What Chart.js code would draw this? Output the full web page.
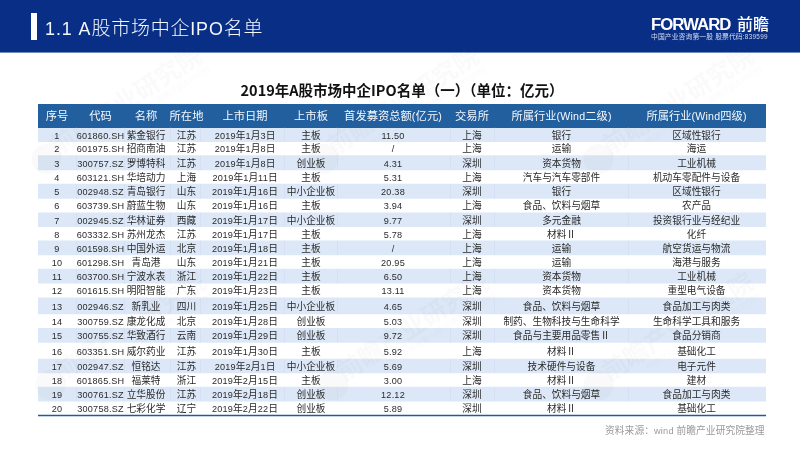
<!DOCTYPE html>
<html lang="zh"><head><meta charset="utf-8">
<style>html,body{margin:0;padding:0;background:#fff}#box{width:800px;height:450px}</style>
<script src="https://cdn.jsdelivr.net/npm/chart.js@4"></script></head>
<body><div id="box"><canvas id="c" width="800" height="450"></canvas></div>
<script>
const headers=['序号','代码','名称','所在地','上市日期','上市板','首发募资总额(亿元)','交易所','所属行业(Wind二级)','所属行业(Wind四级)'];
const codes=['601860.SH','601975.SH','300757.SZ','603121.SH','002948.SZ','603739.SH','002945.SZ','603332.SH','601598.SH','601298.SH','603700.SH','601615.SH','002946.SZ','300759.SZ','300755.SZ','603351.SH','002947.SZ','601865.SH','300761.SZ','300758.SZ'];
const names=['紫金银行','招商南油','罗博特科','华培动力','青岛银行','蔚蓝生物','华林证券','苏州龙杰','中国外运','青岛港','宁波水表','明阳智能','新乳业','康龙化成','华致酒行','威尔药业','恒铭达','福莱特','立华股份','七彩化学'];
const provinces=['江苏','江苏','江苏','上海','山东','山东','西藏','江苏','北京','山东','浙江','广东','四川','北京','云南','江苏','江苏','浙江','江苏','辽宁'];
const dates=['2019年1月3日','2019年1月8日','2019年1月8日','2019年1月11日','2019年1月16日','2019年1月16日','2019年1月17日','2019年1月17日','2019年1月18日','2019年1月21日','2019年1月22日','2019年1月23日','2019年1月25日','2019年1月28日','2019年1月29日','2019年1月30日','2019年2月1日','2019年2月15日','2019年2月18日','2019年2月22日'];
const boards=['主板','主板','创业板','主板','中小企业板','主板','中小企业板','主板','主板','主板','主板','主板','中小企业板','创业板','创业板','主板','中小企业板','主板','创业板','创业板'];
const raised=[11.50,null,4.31,5.31,20.38,3.94,9.77,5.78,null,20.95,6.50,13.11,4.65,5.03,9.72,5.92,5.69,3.00,12.12,5.89];
const exchanges=['上海','上海','深圳','上海','深圳','上海','深圳','上海','上海','上海','上海','上海','深圳','深圳','深圳','上海','深圳','上海','深圳','深圳'];
const industry2=['银行','运输','资本货物','汽车与汽车零部件','银行','食品、饮料与烟草','多元金融','材料Ⅱ','运输','运输','资本货物','资本货物','食品、饮料与烟草','制药、生物科技与生命科学','食品与主要用品零售Ⅱ','材料Ⅱ','技术硬件与设备','材料Ⅱ','食品、饮料与烟草','材料Ⅱ'];
const industry4=['区域性银行','海运','工业机械','机动车零配件与设备','区域性银行','农产品','投资银行业与经纪业','化纤','航空货运与物流','海港与服务','工业机械','重型电气设备','食品加工与肉类','生命科学工具和服务','食品分销商','基础化工','电子元件','建材','食品加工与肉类','基础化工'];
const titleText='2019年A股市场中企IPO名单（一）（单位：亿元）';

// Table layout: header + 20 rows share one stacked bar; spans are row thicknesses.
const headerSpan=23.8;
const rowSpans=[13.8,14,14.3,14.2,14.2,14.3,14,14,14,14.3,14,14.7,16,14.3,14,16.7,13.7,14.3,14,14.3];
const colCenters=[19,62.5,108,148.5,207,273,355,434,523.5,658.5];
const colEdges=[38,86,132,162,246,299,412,456,590];

const CJK='"Noto Sans CJK SC"', LATIN='"Liberation Sans"';
function drawRuns(ctx,text,x,y,size,color,opt={}){
  const weight=opt.weight||'400', ls=opt.spacing||0, parts=text.match(/[\x20-\x7e]+|[^\x20-\x7e]+/g)||[];
  const isL=p=>/^[\x20-\x7e]/.test(p);
  const setF=p=>{ctx.font=isL(p)?`${weight==='300'?'400':weight} ${size*0.94}px ${LATIN}`:`${weight} ${size}px ${CJK}`;ctx.letterSpacing=(isL(p)?ls+0.2:ls)+'px';};
  let w=0; parts.forEach(p=>{setF(p);w+=ctx.measureText(p).width;});
  let cx=opt.left?x:x-w/2;
  ctx.fillStyle=color; ctx.textAlign='left'; ctx.textBaseline='alphabetic';
  parts.forEach(p=>{setF(p);ctx.fillText(p,cx,y+size*0.36+0.4);cx+=ctx.measureText(p).width;});
  ctx.letterSpacing='0px';
}

const chrome={id:'chrome',
  beforeDraw(ch){const c=ch.ctx;c.save();
    c.fillStyle='#fff';c.fillRect(0,0,800,450);
    c.fillStyle='#082E85';c.fillRect(0,0,800,52);
    c.fillStyle='#6E8CC0';c.fillRect(0,52,800,1);
    c.fillStyle='#fff';c.fillRect(31,13,6,27);
    drawRuns(c,'1.1 A股市场中企IPO名单',45,28,19,'#F4F7FC',{left:true,weight:'300',spacing:0.75});
    c.font='700 16.8px "Liberation Sans"';c.fillStyle='#fff';c.textAlign='left';c.textBaseline='alphabetic';
    c.letterSpacing='-1px';c.fillText('FORWARD',651,30);c.letterSpacing='0px';
    c.font=`500 16px ${CJK}`;c.fillText('前瞻',737,29.5);
    drawRuns(c,'中国产业咨询第一股 股票代码:839599',651,36.6,6.8,'#D5DDF0',{left:true,spacing:0.1});
    drawRuns(c,'资料来源：wind 前瞻产业研究院整理',605,430,9.8,'#9A9A9A',{left:true});
    c.restore();},
  afterDatasetsDraw(ch){const c=ch.ctx,xs=ch.scales.col,ys=ch.scales.y;c.save();
    // faint cell separators inside the tinted rows
    let top=headerSpan;
    rowSpans.forEach((s,r)=>{ if(r%2===0){c.fillStyle='#D2DFF0';
        colEdges.forEach(e=>c.fillRect(Math.round(xs.getPixelForValue(e)),ys.getPixelForValue(top),0.7,ys.getPixelForValue(top+s)-ys.getPixelForValue(top)));}
      top+=s;});
    // watermarks
    [[193,58],[470,58],[745,58],[197,284],[480,284],[745,284]].forEach(([ex,ey])=>{
      c.save();c.translate(ex,ey);c.rotate(-33*Math.PI/180);
      c.fillStyle='rgba(120,120,120,0.035)';c.font=`700 25px ${CJK}`;c.textAlign='right';c.textBaseline='alphabetic';
      c.fillText('前瞻产业研究院',8,8);
      c.font=`400 8px ${CJK}`;c.fillText('中国产业咨询第一股(股票代码839599)',8,20);
      c.beginPath();c.arc(-178,5,15,0,7);c.fill();
      c.restore();});
    let acc=0;const next=s=>{const m=ys.getPixelForValue(acc+s/2);acc+=s;return m;};
    const hy=next(headerSpan);
    headers.forEach((h,i)=>drawRuns(c,h,xs.getPixelForValue(colCenters[i]),hy,11.3,'#F5F8FC'));
    rowSpans.forEach((s,r)=>{const y=next(s),txt='#2A2A2A';
      const cells=[String(r+1),codes[r],names[r],provinces[r],dates[r],boards[r],raised[r]===null?'/':raised[r].toFixed(2),exchanges[r],industry2[r],industry4[r]];
      cells.forEach((t,i)=>drawRuns(c,t,xs.getPixelForValue(colCenters[i]),y,9.7,txt));
    });
    c.strokeStyle='#1F5C9E';c.lineWidth=1.4;c.beginPath();c.moveTo(ch.chartArea.left,ch.chartArea.bottom);c.lineTo(ch.chartArea.right,ch.chartArea.bottom);c.stroke();
    c.restore();}
};

const total=headerSpan+rowSpans.reduce((a,b)=>a+b,0);
const datasets=[{label:'表头',data:[headerSpan],backgroundColor:'#225F9F'}].concat(
  rowSpans.map((s,i)=>({label:String(i+1),data:[s],backgroundColor:i%2===0?'#DCE8F7':'rgba(255,255,255,0)'})));
datasets.forEach(d=>{d.barPercentage=1;d.categoryPercentage=1;d.borderWidth=0;});

new Chart(document.getElementById('c'),{type:'bar',data:{labels:['IPO'],datasets},
  plugins:[chrome],
  options:{responsive:false,animation:false,
    layout:{padding:{left:38,right:34,top:76.5,bottom:34.5}},
    plugins:{legend:{display:false},tooltip:{enabled:false},
      title:{display:true,text:titleText,color:'#111',font:{family:'"Noto Sans CJK SC"',size:14.5,weight:'700',lineHeight:1.2},padding:{top:5.5,bottom:4.5}}},
    scales:{
      x:{stacked:true,display:false},
      y:{stacked:true,display:false,reverse:true,min:0,max:total},
      col:{type:'linear',axis:'x',display:false,offset:false,min:0,max:728}
    }}});
</script></body></html>
